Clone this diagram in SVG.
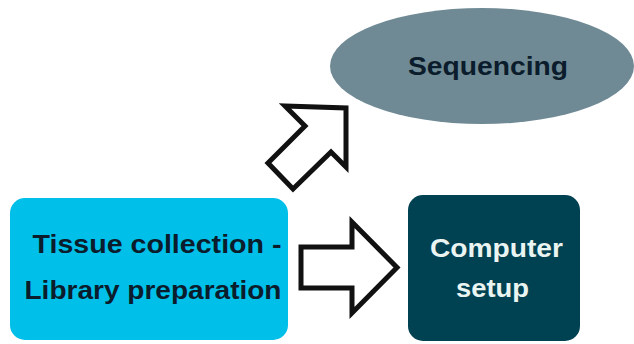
<svg xmlns="http://www.w3.org/2000/svg" width="634" height="344" viewBox="0 0 634 344">
  <style>
    .label { font-family: "Liberation Sans", Arial, sans-serif; font-weight: bold; font-size: 25px; text-anchor: middle; }
    .dark { fill: #0b1c2c; }
    .light { fill: #eaf4f1; }
    .flow { fill: #ffffff; stroke: #111111; stroke-width: 5; stroke-linejoin: miter; }
  </style>
  <rect width="634" height="344" fill="#ffffff"/>

  <g id="sequencing">
    <ellipse cx="482" cy="66" rx="152" ry="58" fill="#6f8a94"/>
    <text class="label dark" x="488" y="75" font-size="26" textLength="160" lengthAdjust="spacingAndGlyphs">Sequencing</text>
  </g>

  <g id="tissue-library">
    <rect x="10" y="198" width="278" height="142" rx="15" ry="15" fill="#00bfe8"/>
    <text class="label dark" x="157" y="253" textLength="249" lengthAdjust="spacingAndGlyphs">Tissue collection -</text>
    <text class="label dark" x="153" y="299" textLength="257" lengthAdjust="spacingAndGlyphs">Library preparation</text>
  </g>

  <g id="computer-setup">
    <rect x="408" y="195" width="172" height="146" rx="15" ry="15" fill="#004152"/>
    <text class="label light" x="496.5" y="257" textLength="133" lengthAdjust="spacingAndGlyphs">Computer</text>
    <text class="label light" x="492.5" y="297" textLength="73" lengthAdjust="spacingAndGlyphs">setup</text>
  </g>

  <g id="connectors">
    <!-- block arrow towards sequencing -->
    <polygon class="flow" points="285,106 346,108 346,167 331,152 293,189 268,163 305,126"/>
    <!-- block arrow towards computer setup -->
    <polygon class="flow" points="301,247 352,247 352,222 397,267.5 352,313 352,288 301,288"/>
  </g>
</svg>
